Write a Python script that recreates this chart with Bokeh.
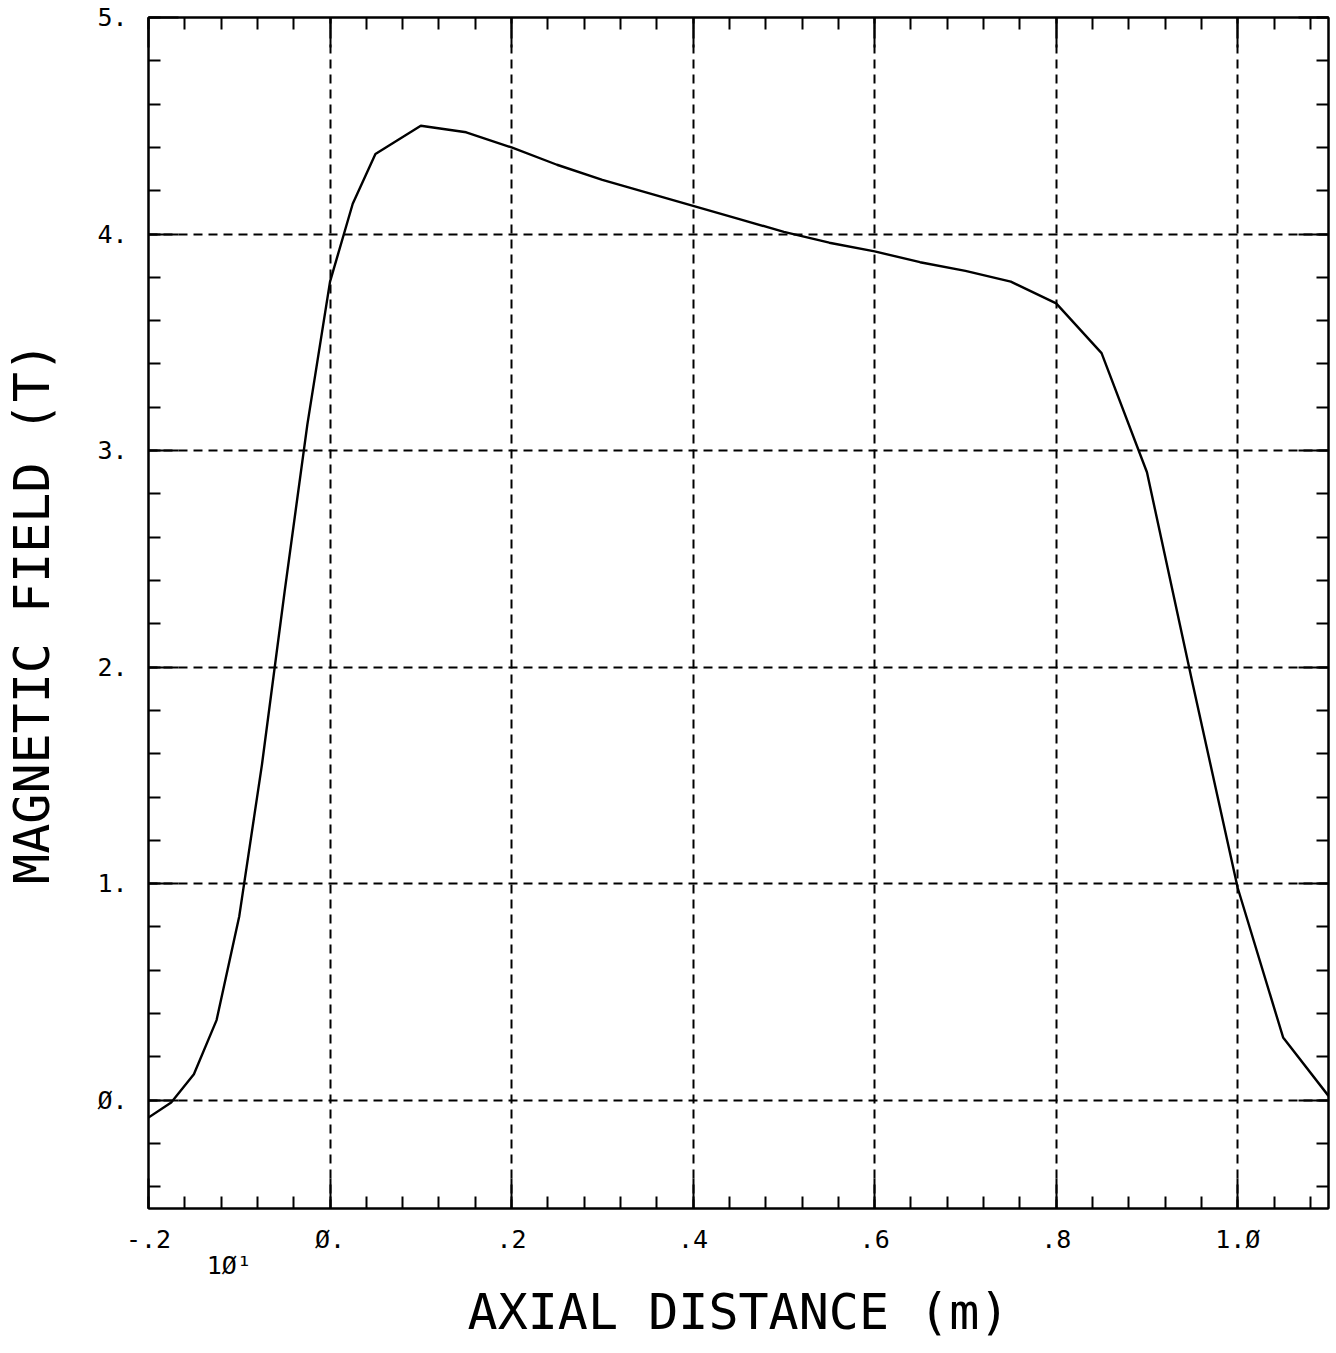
import numpy as np
from bokeh.plotting import figure
from bokeh.models import LinearAxis, FixedTicker, Range1d
from bokeh.embed import file_html
from bokeh.resources import INLINE

# ---- data ----
axial_distance_m = [-0.200, -0.175, -0.150, -0.125, -0.100, -0.075, -0.050, -0.025,
                    0.000, 0.025, 0.050, 0.100, 0.150, 0.200, 0.250, 0.300, 0.350,
                    0.400, 0.450, 0.500, 0.550, 0.600, 0.650, 0.700, 0.750, 0.800,
                    0.850, 0.900, 0.950, 1.000, 1.050, 1.100]
magnetic_field_T = [-0.08, -0.01, 0.12, 0.37, 0.85, 1.55, 2.35, 3.12,
                    3.78, 4.14, 4.37, 4.50, 4.47, 4.40, 4.32, 4.25, 4.19,
                    4.13, 4.07, 4.01, 3.96, 3.92, 3.87, 3.83, 3.78, 3.68,
                    3.45, 2.90, 1.93, 0.98, 0.29, 0.02]

x_ticks = [-0.2, 0.0, 0.2, 0.4, 0.6, 0.8, 1.0]
x_tick_labels = ["-.2", "Ø.", ".2", ".4", ".6", ".8", "1.Ø"]
y_ticks = [0.0, 1.0, 2.0, 3.0, 4.0, 5.0]
y_tick_labels = ["Ø.", "1.", "2.", "3.", "4.", "5."]
x_grid = [0.0, 0.2, 0.4, 0.6, 0.8, 1.0]
y_grid = [0.0, 1.0, 2.0, 3.0, 4.0]
x_minor = [round(v, 2) for v in np.arange(-0.2, 1.1001, 0.04)]
y_minor = [round(v, 1) for v in np.arange(-0.4, 5.0001, 0.2)]
x_exponent_pos = [-0.111]
x_exponent_label = ["1Ø¹"]

FONT = "DejaVu Sans Mono"

p = figure(frame_width=1180, frame_height=1191,
           x_range=Range1d(-0.2, 1.1), y_range=Range1d(-0.5, 5.0),
           x_axis_location=None, y_axis_location=None,
           output_backend="svg", toolbar_location=None,
           min_border_left=143, min_border_right=4, min_border_top=17,
           min_border_bottom=120,
           background_fill_color="white", border_fill_color="white")

p.outline_line_color = "black"
p.outline_line_width = 2

bottom = LinearAxis(ticker=FixedTicker(ticks=x_ticks, minor_ticks=x_minor),
                    major_label_overrides=dict(zip(x_ticks, x_tick_labels)))
left = LinearAxis(ticker=FixedTicker(ticks=y_ticks, minor_ticks=y_minor),
                  major_label_overrides=dict(zip(y_ticks, y_tick_labels)))
top = LinearAxis(ticker=FixedTicker(ticks=x_ticks, minor_ticks=x_minor),
                 major_label_overrides={t: "" for t in x_ticks})
right = LinearAxis(ticker=FixedTicker(ticks=y_ticks, minor_ticks=y_minor),
                   major_label_overrides={t: "" for t in y_ticks})
expo = LinearAxis(ticker=FixedTicker(ticks=x_exponent_pos),
                  major_label_overrides=dict(zip(x_exponent_pos, x_exponent_label)))

p.add_layout(bottom, "below")
p.add_layout(expo, "below")
p.add_layout(left, "left")
p.add_layout(top, "above")
p.add_layout(right, "right")

for ax in [bottom, left, top, right, expo]:
    ax.axis_line_color = "black"
    ax.axis_line_width = 2
    ax.major_tick_line_color = "black"
    ax.major_tick_line_width = 2
    ax.minor_tick_line_color = "black"
    ax.minor_tick_line_width = 2
    ax.major_tick_in = 30
    ax.major_tick_out = 0
    ax.minor_tick_in = 12
    ax.minor_tick_out = 0
    ax.major_label_text_font = FONT
    ax.major_label_text_color = "black"
    ax.major_label_text_font_size = "25px"
    ax.axis_label_text_font = FONT
    ax.axis_label_text_font_style = "normal"
    ax.axis_label_text_color = "black"
    ax.axis_label_text_font_size = "50px"

for ax in [top, right]:
    ax.major_label_standoff = 0

expo.axis_line_color = None
expo.major_tick_line_color = None
expo.minor_tick_line_color = None
expo.major_tick_in = 0
expo.minor_tick_in = 0
expo.major_label_standoff = -6
expo.major_label_text_font_size = "25px"

bottom.major_label_standoff = 16
left.major_label_standoff = 21
expo.axis_label = "AXIAL DISTANCE (m)"
left.axis_label = "MAGNETIC FIELD (T)"
expo.axis_label_standoff = 0
left.axis_label_standoff = 33

p.xgrid.ticker = FixedTicker(ticks=x_grid)
p.ygrid.ticker = FixedTicker(ticks=y_grid)
for g in [p.xgrid, p.ygrid]:
    g.grid_line_color = "black"
    g.grid_line_width = 2
    g.grid_line_dash = "9 6"
    g.grid_line_alpha = 1.0

p.line(axial_distance_m, magnetic_field_T, line_color="black", line_width=2.4)

open("out.html", "w").write(file_html(p, INLINE))
